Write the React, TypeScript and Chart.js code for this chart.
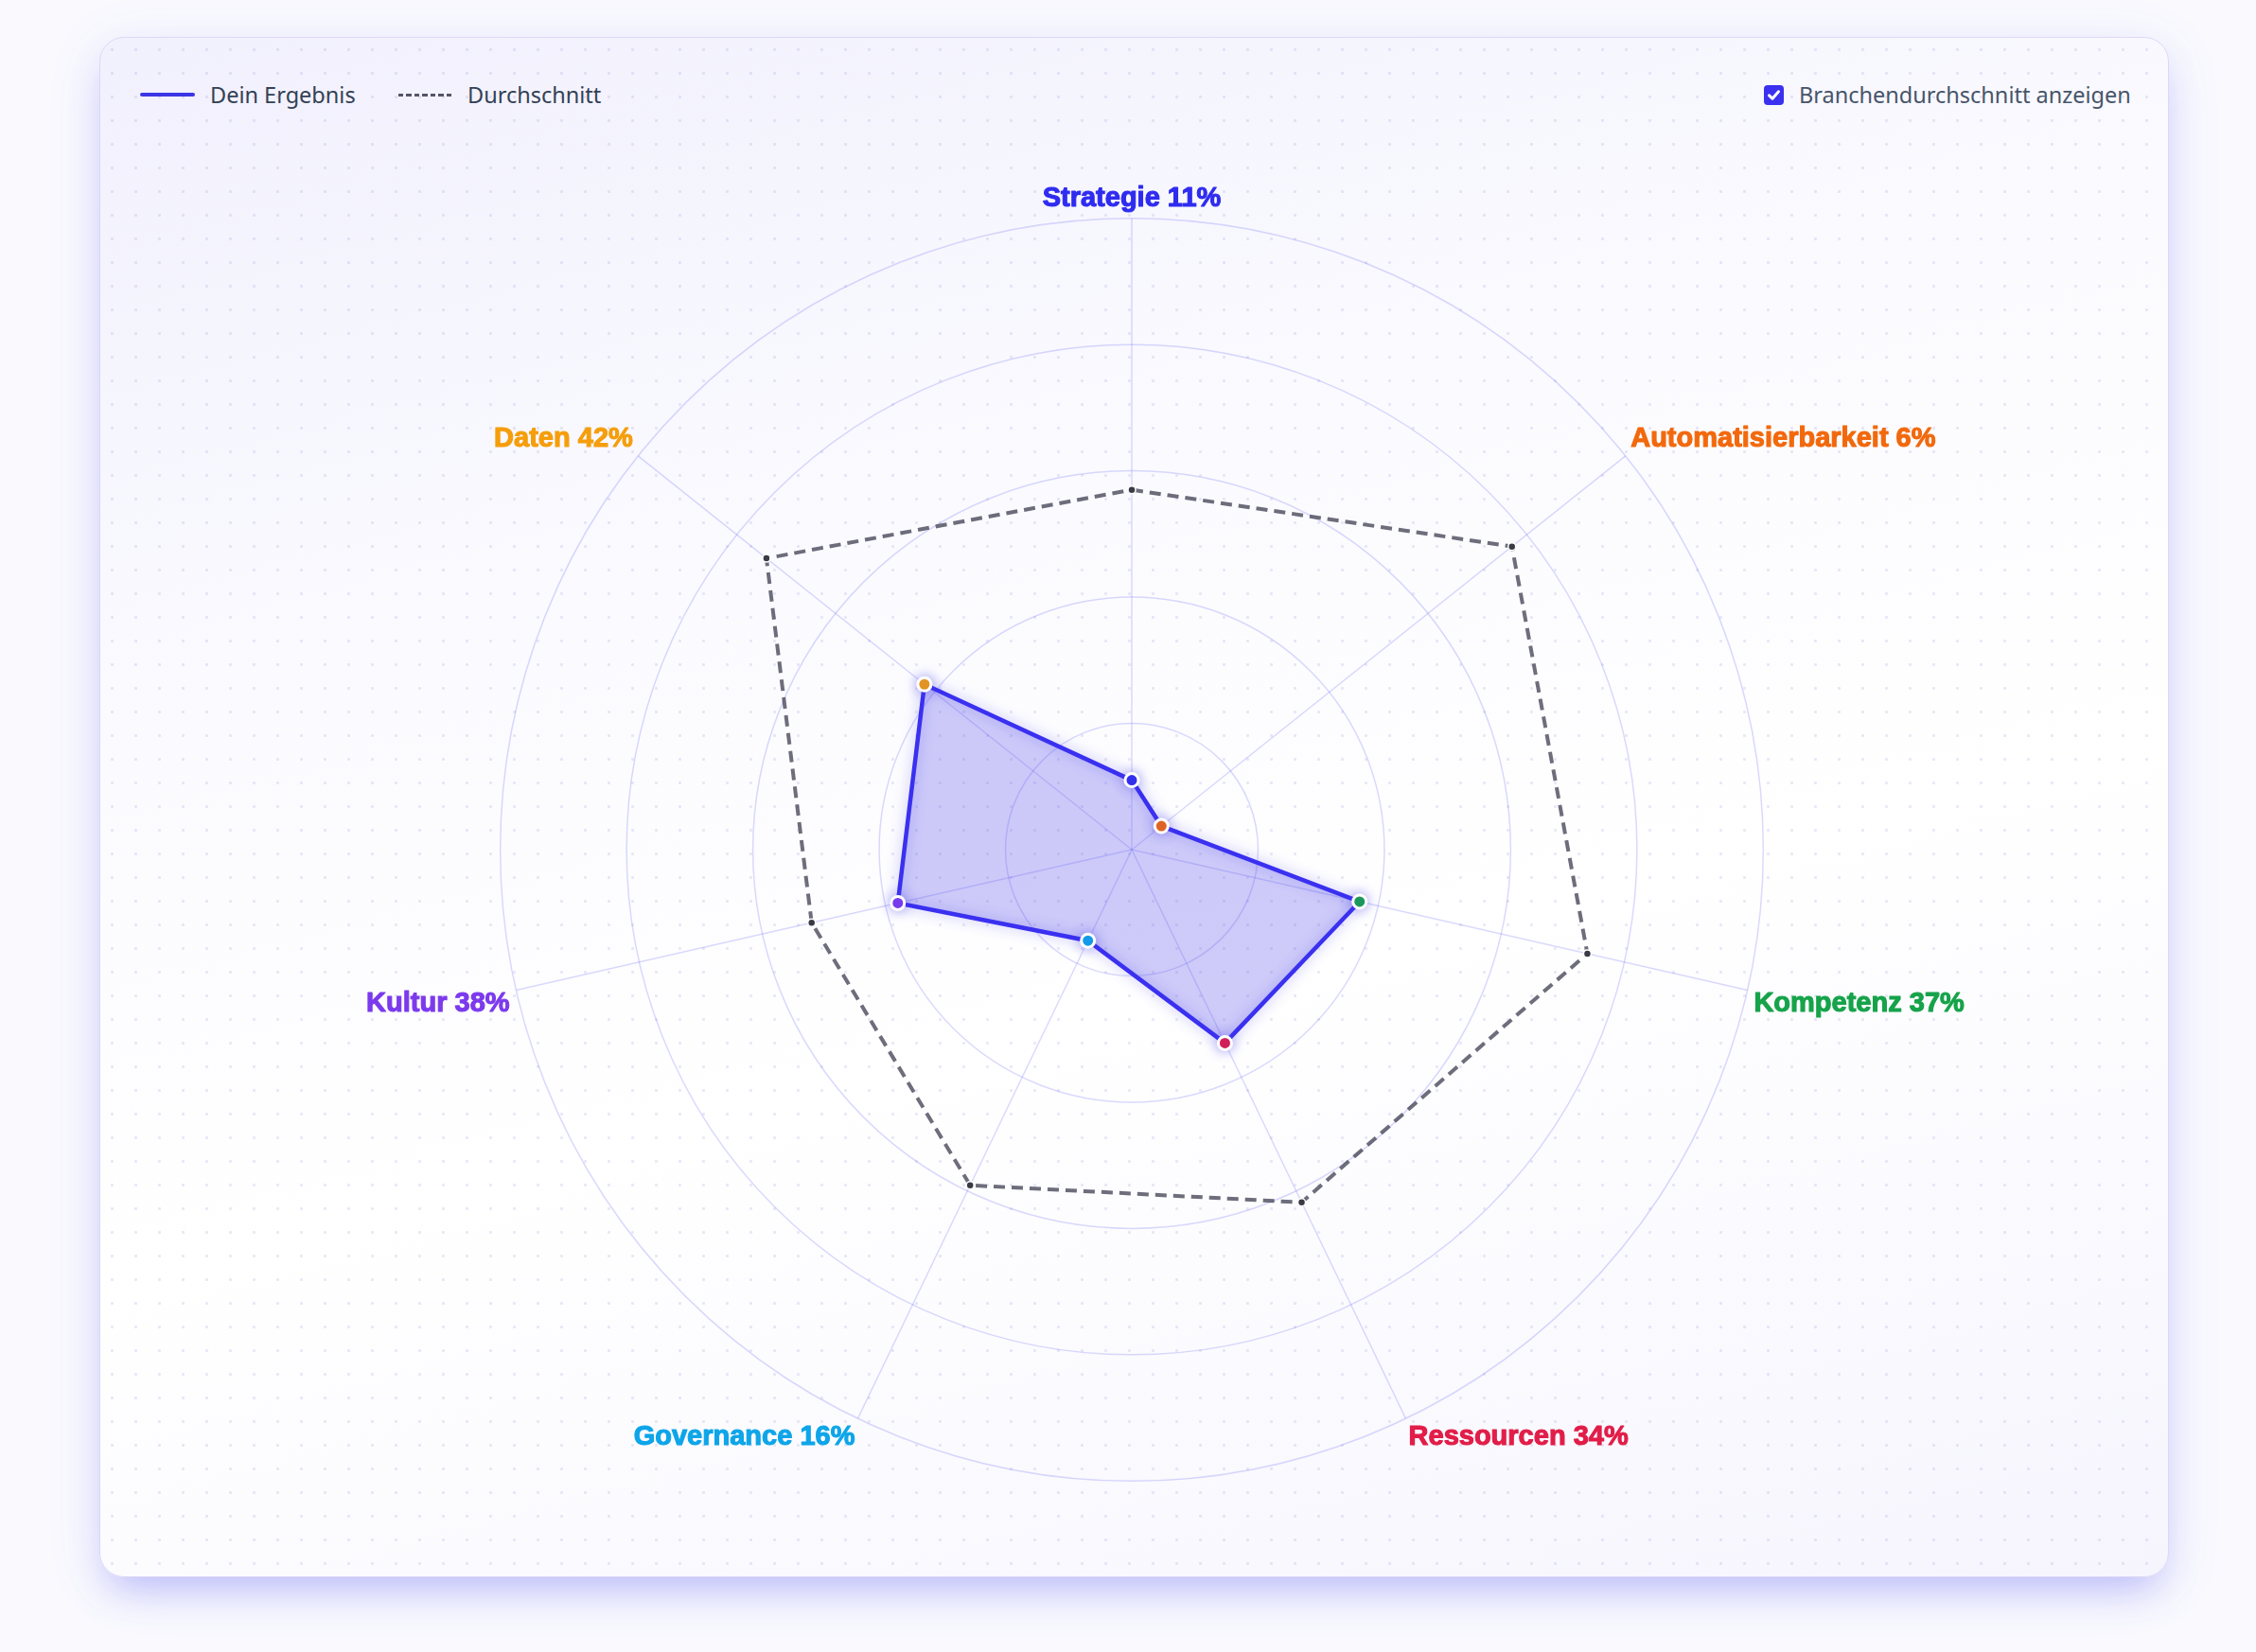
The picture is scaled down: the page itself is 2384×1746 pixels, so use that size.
import React, { useEffect, useRef } from "react";
import { Chart, registerables } from "chart.js";

Chart.register(...registerables);

const categories = [
  "Strategie",
  "Automatisierbarkeit",
  "Kompetenz",
  "Ressourcen",
  "Governance",
  "Kultur",
  "Daten",
];
const userValues = [11, 6, 37, 34, 16, 38, 42];
const averageValues = [57, 77, 74, 62, 59, 52, 74];
const categoryColors = [
  "#2f2cf0",
  "#f2690d",
  "#16a34a",
  "#e11d48",
  "#0ea5e9",
  "#7c3aed",
  "#f59e0b",
];
const seriesNames = ["Dein Ergebnis", "Durchschnitt"];
const scaleMax = 100;
const scaleStep = 20;
const labelFont = "'Liberation Sans', Arial, sans-serif";
const labelSize = 29;

const glowPlugin = {
  id: "glow",
  beforeDatasetDraw(chart: any, args: any) {
    const ctx = chart.ctx;
    ctx.save();
    if (args.index === 0) {
      ctx.shadowColor = "rgba(79,70,229,0.45)";
      ctx.shadowBlur = 14;
    }
  },
  afterDatasetDraw(chart: any) {
    chart.ctx.restore();
  },
};

// thickens the point labels slightly (same text, same place, stroked)
const boldLabelPlugin = {
  id: "boldLabels",
  afterDraw(chart: any) {
    const scale = chart.scales.r;
    const ctx = chart.ctx;
    const labels = chart.data.labels as string[];
    ctx.save();
    ctx.font = `bold ${labelSize}px ${labelFont}`;
    ctx.textAlign = "left";
    ctx.textBaseline = "middle";
    ctx.lineJoin = "round";
    labels.forEach((lbl, i) => {
      const p = scale.getPointLabelPosition(i);
      const w = ctx.measureText(lbl).width;
      const x = (p.left + p.right) / 2 - w / 2;
      const y = p.top + (scale.options.pointLabels.font.lineHeight * labelSize) / 2;
      ctx.strokeStyle = categoryColors[i];
      ctx.lineWidth = 1.1;
      ctx.strokeText(lbl, x, y);
    });
    ctx.restore();
  },
};

function RadarChart() {
  const ref = useRef<HTMLCanvasElement | null>(null);
  useEffect(() => {
    if (!ref.current) return;
    const labels = categories.map((c, i) => `${c} ${userValues[i]}%`);
    const chart = new Chart(ref.current, {
      type: "radar",
      data: {
        labels,
        datasets: [
          {
            label: seriesNames[0],
            data: userValues,
            borderColor: "#3a30f0",
            backgroundColor: "rgba(79,70,235,0.28)",
            borderWidth: 4.5,
            fill: true,
            pointRadius: 7,
            pointBorderWidth: 3,
            pointBorderColor: "#ffffff",
            pointBackgroundColor: categoryColors,
            tension: 0,
          },
          {
            label: seriesNames[1],
            data: averageValues,
            borderColor: "rgba(72,72,90,0.8)",
            backgroundColor: "transparent",
            borderWidth: 4,
            borderDash: [12, 7],
            fill: false,
            pointRadius: 4,
            pointBorderWidth: 1.5,
            pointBorderColor: "#ffffff",
            pointBackgroundColor: "#3a3a46",
          },
        ],
      },
      options: {
        animation: false,
        responsive: false,
        devicePixelRatio: 1,
        plugins: {
          legend: { display: false },
          tooltip: { enabled: false },
        },
        scales: {
          r: {
            min: 0,
            max: scaleMax,
            beginAtZero: true,
            ticks: { display: false, stepSize: scaleStep },
            grid: { color: "rgba(99,102,241,0.24)", lineWidth: 1.5, circular: true },
            angleLines: { color: "rgba(99,102,241,0.24)", lineWidth: 1.5 },
            pointLabels: {
              padding: 7,
              font: { family: labelFont, size: labelSize, weight: "bold", lineHeight: 0.92 },
              color: (ctx: any) => categoryColors[ctx.index],
            },
          },
        },
      },
      plugins: [glowPlugin, boldLabelPlugin],
    } as any);
    return () => chart.destroy();
  }, []);
  return (
    <canvas
      ref={ref}
      width={1901}
      height={1403}
      style={{ position: "absolute", left: 246, top: 181, width: 1901, height: 1403 }}
    />
  );
}

export default function App() {
  const textFont = "'Noto Sans', 'Open Sans', sans-serif";
  const textStyle = (left: number, color: string): React.CSSProperties => ({
    position: "absolute",
    left,
    top: 84,
    height: 32,
    lineHeight: "32px",
    fontFamily: textFont,
    fontSize: 23.5,
    color,
    whiteSpace: "nowrap",
  });
  return (
    <div
      style={{
        position: "fixed",
        left: 0,
        top: 0,
        width: 2384,
        height: 1746,
        background: "#f9f9fe",
        overflow: "hidden",
      }}
    >
      <div
        style={{
          position: "absolute",
          left: 105,
          top: 39,
          width: 2187,
          height: 1628,
          boxSizing: "border-box",
          borderRadius: 26,
          border: "1.5px solid #dcd8f7",
          background:
            "radial-gradient(circle at 12.5px 12.5px, rgba(120,118,200,0.16) 1.3px, transparent 1.9px) 0 0 / 25px 25px, linear-gradient(165deg, #f1f0fd 0%, #fbfbff 35%, #ffffff 60%, #f6f5fe 100%)",
          boxShadow:
            "0 22px 40px -12px rgba(99,102,241,0.38), 0 10px 60px rgba(99,102,241,0.10)",
        }}
      />
      <RadarChart />
      {/* legend */}
      <div style={{ position: "absolute", left: 148, top: 98, width: 58, height: 4, borderRadius: 2, background: "#3b35e6" }} />
      <div style={textStyle(222, "#334155")}>{seriesNames[0]}</div>
      <div
        style={{
          position: "absolute",
          left: 421,
          top: 99,
          width: 58,
          height: 2.5,
          background: "repeating-linear-gradient(90deg, #555566 0 5.5px, transparent 5.5px 8.5px)",
        }}
      />
      <div style={textStyle(494, "#334155")}>{seriesNames[1]}</div>
      {/* checkbox */}
      <div
        style={{
          position: "absolute",
          left: 1864,
          top: 90,
          width: 21,
          height: 21,
          borderRadius: 4,
          background: "#3b30f0",
        }}
      >
        <svg width="21" height="21" viewBox="0 0 21 21" style={{ display: "block" }}>
          <path d="M5.5 10.8 L9 14.2 L15.5 6.8" stroke="#ffffff" strokeWidth="3" fill="none" strokeLinecap="round" strokeLinejoin="round" />
        </svg>
      </div>
      <div style={textStyle(1901, "#475569")}>Branchendurchschnitt anzeigen</div>
    </div>
  );
}
